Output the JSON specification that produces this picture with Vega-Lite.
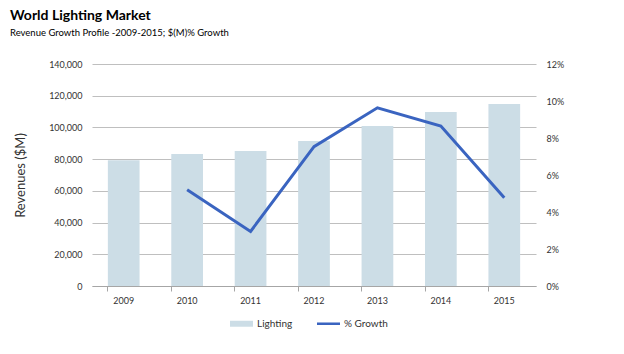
{
  "$schema": "https://vega.github.io/schema/vega-lite/v6.json",
  "width": 444,
  "height": 222,
  "autosize": {"type": "none"},
  "padding": {"left": 92, "top": 64, "right": 88, "bottom": 68},
  "background": "white",
  "title": {
    "text": "World Lighting Market",
    "subtitle": "Revenue Growth Profile -2009-2015; $(M)% Growth",
    "anchor": "start",
    "frame": "group",
    "dx": -82,
    "offset": 23,
    "font": "Lato",
    "fontSize": 14,
    "fontWeight": "bold",
    "color": "#000000",
    "subtitleFont": "Lato",
    "subtitleFontSize": 9.5,
    "subtitleColor": "#000000",
    "subtitlePadding": 5
  },
  "data": {
    "values": [
      {"year": "2009", "revenue": 79300, "growth": null},
      {"year": "2010", "revenue": 83200, "growth": 0.052},
      {"year": "2011", "revenue": 85200, "growth": 0.0295},
      {"year": "2012", "revenue": 91500, "growth": 0.0753},
      {"year": "2013", "revenue": 100900, "growth": 0.0963},
      {"year": "2014", "revenue": 109700, "growth": 0.0865},
      {"year": "2015", "revenue": 114800, "growth": 0.0477}
    ]
  },
  "encoding": {
    "x": {
      "field": "year",
      "type": "ordinal",
      "scale": {"paddingInner": 0.5, "paddingOuter": 0.25},
      "axis": {
        "title": null,
        "labelAngle": 0,
        "bandPosition": 0,
        "labelFont": "Lato",
        "labelFontSize": 9,
        "labelColor": "#333333",
        "domainColor": "#a6a6a6",
        "tickColor": "#a6a6a6",
        "tickSize": 5,
        "labelPadding": 5,
        "grid": false
      }
    }
  },
  "layer": [
    {
      "mark": {"type": "bar", "color": "#ccdde6"},
      "encoding": {
        "y": {
          "field": "revenue",
          "type": "quantitative",
          "scale": {"domain": [0, 140000]},
          "axis": {
            "title": "Revenues ($M)",
            "values": [0, 20000, 40000, 60000, 80000, 100000, 120000, 140000],
            "format": ",d",
            "domain": false,
            "ticks": false,
            "grid": true,
            "gridColor": "#bfbfbf",
            "labelFont": "Lato",
            "labelFontSize": 9,
            "labelColor": "#333333",
            "labelPadding": 10,
            "titleFont": "Lato",
            "titleFontSize": 13,
            "titleFontWeight": "normal",
            "titleColor": "#333333",
            "titlePadding": 21
          }
        },
        "color": {
          "datum": "Lighting",
          "type": "nominal",
          "legend": {
            "encode": {
              "symbols": {
                "update": {
                  "shape": {"signal": "datum.value === 'Lighting' ? 'M-1,-0.26H1V0.26H-1Z' : 'M-1,-0.11H1V0.11H-1Z'"},
                  "fill": {"signal": "datum.value === 'Lighting' ? '#ccdde6' : '#3a64c0'"},
                  "stroke": {"value": "transparent"},
                  "strokeWidth": {"value": 0},
                  "opacity": {"value": 1},
                  "fillOpacity": {"value": 1}
                }
              }
            }
          }
        }
      }
    },
    {
      "mark": {"type": "line", "strokeWidth": 3, "color": "#3a64c0"},
      "encoding": {
        "y": {
          "field": "growth",
          "type": "quantitative",
          "scale": {"domain": [0, 0.12]},
          "axis": {
            "orient": "right",
            "title": null,
            "values": [0, 0.02, 0.04, 0.06, 0.08, 0.1, 0.12],
            "format": ".0%",
            "domain": false,
            "ticks": false,
            "grid": false,
            "labelFont": "Lato",
            "labelFontSize": 9,
            "labelColor": "#333333",
            "labelPadding": 10
          }
        },
        "color": {"datum": "% Growth", "type": "nominal"}
      }
    }
  ],
  "resolve": {"scale": {"y": "independent"}},
  "config": {
    "view": {"stroke": null},
    "range": {"category": ["#ccdde6", "#3a64c0"]},
    "legend": {
      "orient": "none",
      "direction": "horizontal",
      "legendX": 138,
      "legendY": 248,
      "title": null,
      "padding": 0,
      "symbolSize": 529,
      "labelFont": "Lato",
      "labelFontSize": 10,
      "labelColor": "#333333",
      "labelOffset": 4,
      "columnPadding": 24
    }
  }
}
